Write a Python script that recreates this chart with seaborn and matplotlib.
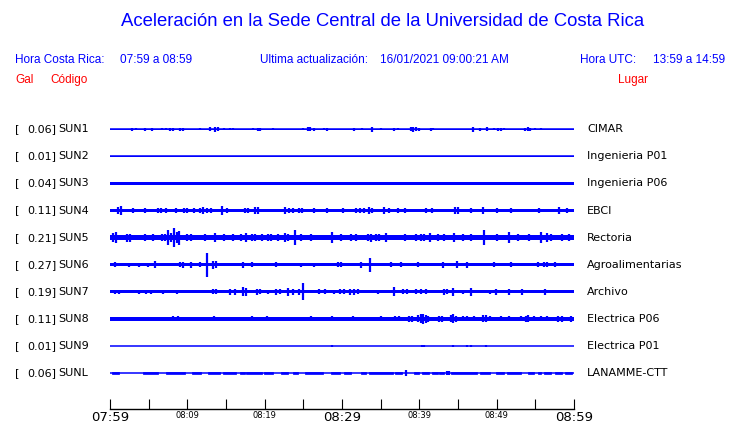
import numpy as np
import pandas as pd
import seaborn as sns
import matplotlib.pyplot as plt

# stations, places and peak acceleration (gal) shown on the left
stations = ["SUN1", "SUN2", "SUN3", "SUN4", "SUN5", "SUN6", "SUN7", "SUN8", "SUN9", "SUNL"]
places = ["CIMAR", "Ingenieria P01", "Ingenieria P06", "EBCI", "Rectoria",
          "Agroalimentarias", "Archivo", "Electrica P06", "Electrica P01", "LANAMME-CTT"]
peak_gal = [0.06, 0.01, 0.04, 0.11, 0.21, 0.27, 0.19, 0.11, 0.01, 0.06]

# background noise level of each trace (gal, half amplitude)
base_gal = [0.010, 0.008, 0.038, 0.042, 0.062, 0.036, 0.032, 0.045, 0.008, 0.009]

# bursts: (minute after 07:59, half amplitude in gal)
sun1_bursts = [(2.8, .03), (3.3, .025), (4.5, .03), (5.4, .03), (6.7, .025), (7.2, .02), (7.8, .035),
               (8.1, .035), (9.0, .035), (9.4, .03), (11.6, .025), (12.9, .04), (13.6, .055), (14.0, .05),
               (14.8, .02), (15.5, .02), (15.9, .02), (16.7, .015), (18.5, .025), (19.1, .03), (19.4, .03),
               (21.1, .025), (24.9, .025), (25.6, .045), (25.9, .05), (26.4, .03), (27.7, .02), (28.1, .03),
               (31.5, .03), (32.6, .02), (33.9, .055), (35.0, .02), (36.7, .03), (37.3, .02), (38.9, .05),
               (39.2, .06), (39.6, .04), (40.0, .03), (41.5, .03), (41.8, .025), (45.8, .015), (46.9, .055),
               (47.9, .03), (48.7, .05), (49.7, .02), (50.2, .035), (50.5, .03), (51.0, .025), (53.6, .035),
               (54.0, .04), (54.3, .03), (55.0, .025), (55.7, .02)]
sun2_bursts = []
sun3_bursts = []
sun4_bursts = [(1.0, .09), (1.4, .10), (3.0, .05), (4.5, .05), (6.2, .065), (6.6, .055), (7.3, .05), (8.5, .05),
               (9.6, .055), (10.0, .055), (10.8, .05), (11.6, .065), (12.0, .07), (12.5, .055), (13.1, .05),
               (14.5, .11), (15.1, .055), (17.4, .05), (17.8, .05), (18.8, .07), (19.2, .07), (22.6, .07),
               (23.2, .055), (23.7, .06), (24.4, .065), (24.8, .065), (26.4, .05), (28.1, .055), (30.1, .05),
               (31.8, .055), (32.3, .055), (32.9, .055), (33.5, .09), (33.9, .055), (35.4, .07), (36.1, .055),
               (37.2, .055), (38.1, .05), (40.9, .05), (41.7, .055), (44.6, .075), (45.0, .08), (46.7, .05),
               (48.2, .09), (50.1, .05), (51.8, .06), (55.5, .05), (58.1, .07), (59.1, .055)]
sun5_bursts = [(0.4, .11), (0.8, .12), (2.2, .09), (2.6, .09), (4.5, .08), (5.6, .08), (6.7, .085), (7.1, .085),
               (7.5, .18), (7.9, .10), (8.3, .21), (8.6, .12), (8.9, .16), (9.9, .08), (10.5, .08), (12.3, .08),
               (13.6, .10), (14.8, .08), (15.9, .08), (17.0, .085), (17.6, .10), (18.3, .085), (18.7, .085),
               (19.6, .08), (20.4, .085), (20.8, .085), (21.7, .08), (22.6, .11), (23.0, .085), (23.9, .18),
               (24.7, .08), (26.0, .08), (28.7, .12), (29.9, .085), (31.2, .08), (31.8, .08), (33.3, .085),
               (33.8, .09), (34.4, .085), (34.8, .085), (35.7, .10), (38.1, .08), (39.6, .085), (40.2, .085),
               (40.6, .085), (41.4, .11), (42.4, .08), (43.2, .08), (44.5, .11), (45.6, .08), (46.7, .08),
               (48.4, .18), (50.1, .08), (51.6, .13), (52.7, .08), (54.2, .085), (55.7, .13), (56.5, .11),
               (57.0, .085), (58.5, .08), (59.3, .085)]
sun6_bursts = [(0.6, .05), (2.4, .045), (3.7, .045), (4.9, .045), (5.8, .08), (9.0, .06), (9.5, .07), (10.5, .07),
               (11.6, .055), (12.6, .27), (13.3, .09), (13.7, .08), (17.2, .07), (18.3, .05), (21.5, .05),
               (24.7, .045), (26.4, .045), (29.5, .055), (29.9, .05), (32.5, .07), (33.6, .16), (36.3, .05),
               (37.6, .05), (39.8, .055), (43.0, .07), (44.9, .08), (46.2, .07), (49.7, .055), (51.8, .05),
               (55.3, .05), (56.1, .055), (56.5, .055), (57.6, .05)]
sun7_bursts = [(0.7, .05), (1.2, .05), (3.8, .045), (4.6, .045), (5.3, .045), (6.9, .045), (8.6, .045), (13.3, .06),
               (13.7, .06), (15.5, .065), (16.1, .065), (17.2, .10), (17.6, .09), (19.0, .065), (19.4, .06),
               (20.4, .05), (21.5, .065), (22.0, .06), (23.0, .09), (23.6, .065), (24.4, .065), (25.0, .19),
               (27.0, .055), (27.8, .055), (29.0, .05), (29.8, .055), (30.3, .055), (31.0, .065), (31.6, .065),
               (32.1, .06), (34.6, .045), (36.7, .10), (37.9, .06), (38.4, .055), (39.6, .055), (40.2, .06),
               (40.8, .055), (43.2, .065), (43.6, .06), (44.3, .09), (45.6, .05), (46.7, .09), (49.2, .05),
               (49.9, .065), (51.6, .065), (53.3, .065), (56.3, .065)]
sun8_bursts = [(8.2, .06), (8.8, .06), (13.5, .055), (18.4, .06), (20.3, .055), (26.0, .055), (28.7, .06),
               (31.4, .055), (35.0, .055), (36.9, .055), (37.4, .055), (38.6, .07), (39.1, .07), (39.8, .08),
               (40.2, .10), (40.5, .12), (40.8, .09), (41.1, .075), (42.5, .07), (42.9, .07), (44.1, .08),
               (44.4, .10), (44.8, .075), (45.6, .055), (46.2, .06), (47.1, .055), (48.2, .08), (48.6, .08),
               (49.2, .055), (50.5, .06), (51.6, .055), (53.1, .06), (53.8, .065), (54.1, .08), (54.8, .055),
               (55.7, .055), (56.5, .055), (57.9, .07), (58.4, .07), (59.6, .075)]
sun9_bursts = [(28.7, .02), (40.3, .025), (40.6, .025), (44.3, .015), (46.2, .02), (46.7, .02), (48.6, .015)]
sunl_bursts = [(38.3, .06), (43.6, .055), (43.8, .05)]

# active stretches on SUNL: (start minute, end minute, half amplitude gal)
sunl_segments = [(0.2, 1.1, .03), (4.3, 6.2, .03), (7.3, 9.7, .028), (10.6, 11.8, .03), (12.7, 14.2, .03),
                 (14.6, 16.3, .03), (16.8, 17.4, .028), (17.6, 19.6, .032), (19.9, 21.1, .03), (22.1, 23.0, .03),
                 (23.7, 24.3, .028), (25.2, 27.5, .032), (28.6, 29.7, .03), (30.3, 31.2, .03), (32.5, 33.1, .028),
                 (33.5, 36.6, .03), (36.8, 37.8, .03), (39.3, 40.0, .03), (40.4, 41.3, .03), (41.7, 42.4, .03),
                 (42.6, 43.2, .03), (44.1, 47.5, .032), (47.9, 49.2, .03), (49.9, 51.0, .03), (51.4, 53.1, .03),
                 (54.0, 54.8, .03), (55.3, 55.7, .028), (56.1, 57.0, .03), (57.6, 58.5, .03), (58.9, 59.8, .03)]

bursts = [sun1_bursts, sun2_bursts, sun3_bursts, sun4_bursts, sun5_bursts,
          sun6_bursts, sun7_bursts, sun8_bursts, sun9_bursts, sunl_bursts]

tick_minutes = np.arange(0, 61, 5)
label_minutes = np.arange(0, 61, 10)
tick_labels = ["07:59", "08:09", "08:19", "08:29", "08:39", "08:49", "08:59"]

BLUE = "#0000ff"
RED = "#ff0000"
W, H = 740, 423
GAL_TO_TRACK = 44 / 27.1  # 44 px per gal, 27.1 px between traces

sns.set_style("white")
plt.rcParams["font.family"] = ["DejaVu Sans"]
plt.rcParams["text.color"] = "black"
plt.rcParams["xtick.color"] = "black"
plt.rcParams["xtick.labelcolor"] = "black"

fig = plt.figure(figsize=(W / 100, H / 100), dpi=100)


def fx(x):
    return x / W


def fy(y):
    return 1 - y / H


# trace area
ax = fig.add_axes([fx(110), fy(387), 464 / W, 272 / H])
ax.set_xlim(0, 60)
ax.set_ylim(9.517, -0.524)
ax.axis("off")

for i, st in enumerate(stations):
    b = base_gal[i] * GAL_TO_TRACK
    ax.fill_between([0, 60], i - b, i + b, color=BLUE, lw=0)
    sns.lineplot(x=[0, 60], y=[i, i], color=BLUE, lw=1.1, ax=ax)
    if bursts[i]:
        df = pd.DataFrame(bursts[i], columns=["minute", "amp"])
        ax.vlines(df["minute"], i - df["amp"] * GAL_TO_TRACK, i + df["amp"] * GAL_TO_TRACK,
                  color=BLUE, lw=1.6)

# SUNL active stretches, drawn with an outline so thin ones stay solid
seg = pd.DataFrame(sunl_segments, columns=["t0", "t1", "amp"])
for _, r in seg.iterrows():
    ax.fill_between([r["t0"], r["t1"]], 9 - r["amp"] * GAL_TO_TRACK, 9 + r["amp"] * GAL_TO_TRACK,
                    facecolor=BLUE, edgecolor=BLUE, lw=0.5)

# station labels
for i, st in enumerate(stations):
    ypx = 129.2 + 27.1 * i
    fig.text(fx(15), fy(ypx), "[", fontsize=8, va="center", ha="left", color="black")
    fig.text(fx(56), fy(ypx), f"{peak_gal[i]:.2f}]", fontsize=8, va="center", ha="right", color="black")
    fig.text(fx(58), fy(ypx), st, fontsize=8, va="center", ha="left", color="black")
    fig.text(fx(587), fy(ypx), places[i], fontsize=8, va="center", ha="left", color="black")

# time axis
axt = fig.add_axes([fx(110), fy(409), 464 / W, 12 / H])
axt.set_xlim(0, 60)
axt.set_ylim(0, 1)
for s in ["top", "left", "right"]:
    axt.spines[s].set_visible(False)
axt.spines["bottom"].set_color("black")
axt.spines["bottom"].set_linewidth(1.0)
axt.set_yticks([])
axt.set_xticks(label_minutes)
axt.set_xticks(tick_minutes, minor=True)
axt.set_xticklabels(tick_labels)
axt.tick_params(axis="x", which="both", bottom=True, direction="in", length=7, width=0.8,
                color="black", labelcolor="black", pad=1.5)
for j, lab in enumerate(axt.get_xticklabels()):
    lab.set_fontsize(9.5 if j % 3 == 0 else 6)
axt.patch.set_alpha(0)

# header
hdr = ["Liberation Sans", "DejaVu Sans"]
fig.text(fx(383), fy(22), "Aceleración en la Sede Central de la Universidad de Costa Rica",
         color=BLUE, fontsize=13.3, ha="center", va="center", family=hdr)
fig.text(fx(15), fy(60), "Hora Costa Rica:", color=BLUE, fontsize=8.5, va="center", family=hdr)
fig.text(fx(120), fy(60), "07:59 a 08:59", color=BLUE, fontsize=8.5, va="center", family=hdr)
fig.text(fx(260), fy(60), "Ultima actualización:", color=BLUE, fontsize=8.5, va="center", family=hdr)
fig.text(fx(380), fy(60), "16/01/2021 09:00:21 AM", color=BLUE, fontsize=8.5, va="center", family=hdr)
fig.text(fx(580), fy(60), "Hora UTC:", color=BLUE, fontsize=8.5, va="center", family=hdr)
fig.text(fx(725), fy(60), "13:59 a 14:59", color=BLUE, fontsize=8.5, va="center", ha="right", family=hdr)
fig.text(fx(15), fy(80), "Gal", color=RED, fontsize=8.5, va="center", family=hdr)
fig.text(fx(50), fy(80), "Código", color=RED, fontsize=8.5, va="center", family=hdr)
fig.text(fx(648), fy(80), "Lugar", color=RED, fontsize=8.5, va="center", ha="right", family=hdr)

fig.savefig("out.png", dpi=100)
